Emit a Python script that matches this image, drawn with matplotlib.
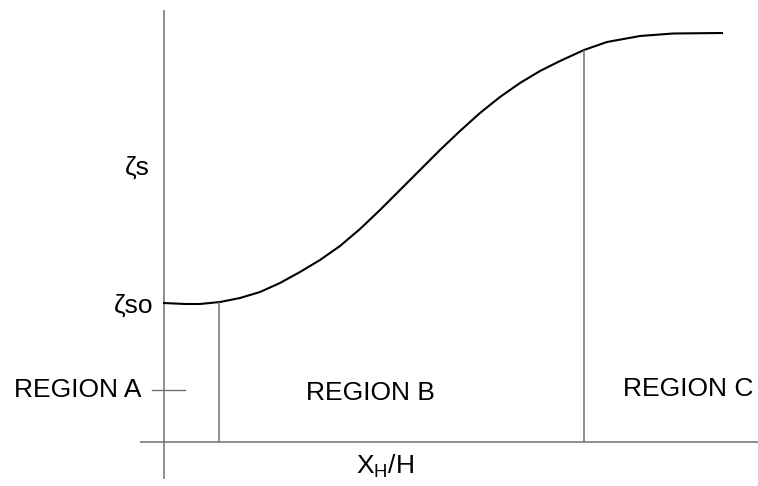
import numpy as np
import matplotlib
matplotlib.use("Agg")
import matplotlib.pyplot as plt

plt.rcParams['font.family'] = ['Liberation Sans', 'DejaVu Sans']
plt.rcParams['mathtext.fontset'] = 'custom'
plt.rcParams['mathtext.rm'] = 'Liberation Sans'
plt.rcParams['mathtext.it'] = 'Liberation Sans'

# surface parameter along the hull, origin at the axis crossing
x_h = [0.0, 0.21, 0.36, 0.56, 0.76, 0.96, 1.16, 1.36, 1.56, 1.76, 1.96,
       2.16, 2.36, 2.56, 2.76, 2.96, 3.16, 3.36, 3.56, 3.76, 3.96, 4.20,
       4.43, 4.76, 5.09, 5.58]
zeta_s = [1.39, 1.38, 1.38, 1.40, 1.44, 1.50, 1.59, 1.70, 1.82, 1.96, 2.13,
          2.32, 2.52, 2.72, 2.92, 3.11, 3.29, 3.45, 3.59, 3.71, 3.81, 3.92,
          4.00, 4.06, 4.085, 4.09]

# region boundaries along x
boundaries = [0.55, 4.20]
region_labels = ["REGION A", "REGION B", "REGION C"]

fig = plt.figure(figsize=(7.58, 4.86), dpi=100)
ax = fig.add_axes([0, 0, 1, 1])
ax.set_xlim(-1.64, 5.94)
ax.set_ylim(-0.44, 4.42)
ax.axis('off')

axis_col = '#707070'
# axes
ax.plot([0, 0], [-0.37, 4.32], color=axis_col, lw=1.1, solid_capstyle='butt')
ax.plot([-0.24, 5.94], [0, 0], color=axis_col, lw=1.1, solid_capstyle='butt')

# curve
ax.plot(x_h, zeta_s, color='black', lw=1.5, solid_joinstyle='round')

# region boundaries up to the curve
for b in boundaries:
    top = np.interp(b, x_h, zeta_s)
    ax.plot([b, b], [0, top], color=axis_col, lw=1.1, solid_capstyle='butt')

# small tick for region A
ax.plot([-0.12, 0.21], [0.52, 0.52], color=axis_col, lw=1.0)

fs = 19
ax.text(-0.14, 2.74, "ζs", fontsize=fs, ha='right', va='center')
ax.text(-0.11, 1.36, "ζso", fontsize=fs, ha='right', va='center')
ax.text(-0.23, 0.52, region_labels[0], fontsize=fs, ha='right', va='center')
ax.text(2.06, 0.49, region_labels[1], fontsize=fs, ha='center', va='center')
ax.text(5.24, 0.53, region_labels[2], fontsize=fs, ha='center', va='center')
ax.text(2.21, -0.24, r"X$_{\mathregular{H}}$/H", fontsize=fs, ha='center', va='center')

fig.savefig("out.png", dpi=100, facecolor='white')
